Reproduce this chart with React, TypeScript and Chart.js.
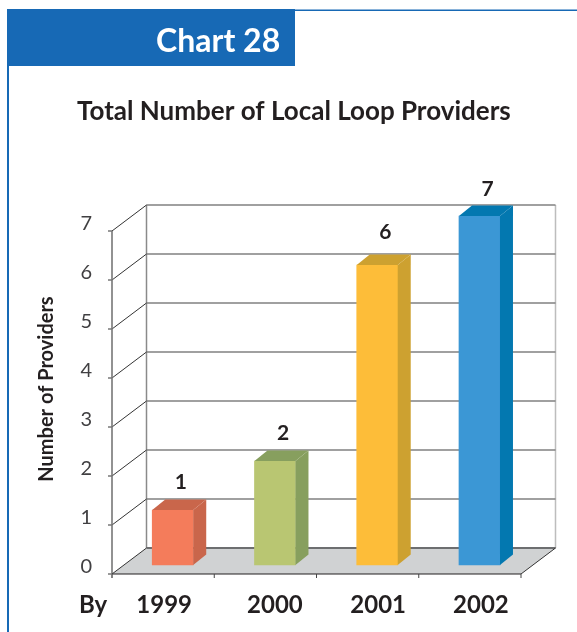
import React, { useEffect, useRef } from "react";
import { Chart, registerables } from "chart.js";

Chart.register(...registerables);

const categories = ["1999", "2000", "2001", "2002"];
const providers = [1, 2, 6, 7];
const frontColors = ["#f47c5b", "#b9c672", "#fdbd39", "#3b97d5"];
const sideColors = ["#c9664b", "#879f5e", "#cda130", "#0378b0"];
const yTicks = [0, 1, 2, 3, 4, 5, 6, 7];
const heading = "Chart 28";
const chartTitle = "Total Number of Local Loop Providers";
const yTitle = "Number of Providers";
const byLabel = "By";

const FONT = "Lato, 'Open Sans', sans-serif";
const WALL_DX = 34.5;
const WALL_DY = -26;
const BAR_DX = 9.6;
const BAR_DY = -15;
const SIDE_DX = 13;
const SIDE_DY = -10.5;
const LABEL_SHIFT = [1, 9.5, 10.5, 11];
const VALUE_GAP = [21, 21, 26, 20];

const poly = (ctx: CanvasRenderingContext2D, pts: number[][], fill: string) => {
  ctx.beginPath();
  pts.forEach(([x, y], i) => (i ? ctx.lineTo(x, y) : ctx.moveTo(x, y)));
  ctx.closePath();
  ctx.fillStyle = fill;
  ctx.fill();
};
const line = (
  ctx: CanvasRenderingContext2D,
  x1: number,
  y1: number,
  x2: number,
  y2: number,
  color: string,
  width: number
) => {
  ctx.beginPath();
  ctx.moveTo(x1, y1);
  ctx.lineTo(x2, y2);
  ctx.strokeStyle = color;
  ctx.lineWidth = width;
  ctx.stroke();
};

const framePlugin = {
  id: "frame3d",
  beforeDatasetsDraw(chart: any) {
    const { ctx, chartArea: a, scales } = chart;
    const y = scales.y;
    const x = scales.x;
    ctx.save();
    // page frame
    ctx.fillStyle = "#1769b5";
    ctx.fillRect(7, 9, 288, 57);
    ctx.fillRect(7, 66, 2, 566);
    ctx.fillRect(295, 9.5, 282, 1.5);
    ctx.textBaseline = "alphabetic";
    ctx.textAlign = "left";
    ctx.fillStyle = "#ffffff";
    ctx.font = `bold 32px ${FONT}`;
    ctx.fillText(heading, 156, 52);
    ctx.fillStyle = "#231f20";
    ctx.font = `bold 26px ${FONT}`;
    ctx.fillText(chartTitle, 77, 120);
    ctx.font = `bold 24px ${FONT}`;
    ctx.fillText(byLabel, 79, 613);
    ctx.save();
    ctx.translate(53, 389);
    ctx.rotate(-Math.PI / 2);
    ctx.textAlign = "center";
    ctx.font = `bold 20px ${FONT}`;
    ctx.fillText(yTitle, 0, 0);
    ctx.restore();
    // x labels
    ctx.textAlign = "center";
    ctx.font = `bold 24px ${FONT}`;
    categories.forEach((c, i) => {
      ctx.fillText(c, x.getPixelForValue(i) + LABEL_SHIFT[i], 613);
    });

    const y0 = y.getPixelForValue(0);
    // floor
    poly(
      ctx,
      [
        [a.left, y0],
        [a.right, y0],
        [a.right + WALL_DX, y0 + WALL_DY],
        [a.left + WALL_DX, y0 + WALL_DY],
      ],
      "#d0d2d3"
    );
    // right wall edge
    line(ctx, a.right + WALL_DX, y.getPixelForValue(7) + WALL_DY, a.right + WALL_DX, y0 + WALL_DY, "#bdbdbd", 1.5);
    // back wall + grid + side wall lines
    line(ctx, a.left + WALL_DX, y.getPixelForValue(7) + WALL_DY, a.left + WALL_DX, y0 + WALL_DY, "#8a8a8a", 1.5);
    yTicks.forEach((v) => {
      const py = y.getPixelForValue(v);
      line(ctx, a.left + WALL_DX, py + WALL_DY, a.right + WALL_DX, py + WALL_DY, v === 0 ? "#6d6e70" : "#808080", v === 0 ? 2 : 1.4);
      line(ctx, a.left, py, a.left + WALL_DX, py + WALL_DY, "#333333", 1);
      line(ctx, a.left - 4, py, a.left, py, "#555555", 1.2);
    });
    // left axis
    line(ctx, a.left, y.getPixelForValue(7), a.left, y0 + 4, "#777777", 1.6);
    // front floor edge
    line(ctx, a.left, y0, a.right, y0, "#231f20", 1.2);
    line(ctx, a.right, y0, a.right + WALL_DX, y0 + WALL_DY, "#333333", 1);
    for (let i = 0; i <= categories.length; i++) {
      const tx = a.left + ((a.right - a.left) * i) / categories.length;
      line(ctx, tx, y0, tx, y0 + 4, i === 0 ? "#777777" : "#444444", 1);
    }
    ctx.restore();
  },
  beforeDatasetDraw(chart: any) {
    chart.ctx.save();
    chart.ctx.translate(BAR_DX, BAR_DY);
  },
  afterDatasetDraw(chart: any) {
    const { ctx } = chart;
    chart.getDatasetMeta(0).data.forEach((bar: any, i: number) => {
      const l = bar.x - bar.width / 2;
      const r = bar.x + bar.width / 2;
      const t = bar.y;
      const b = bar.base;
      poly(ctx, [[r, t], [r + SIDE_DX, t + SIDE_DY], [r + SIDE_DX, b + SIDE_DY], [r, b]], sideColors[i]);
      poly(ctx, [[l, t], [l + SIDE_DX, t + SIDE_DY], [r + SIDE_DX, t + SIDE_DY], [r, t]], sideColors[i]);
      ctx.fillStyle = "#231f20";
      ctx.font = `bold 21px ${FONT}`;
      ctx.textAlign = "center";
      ctx.textBaseline = "alphabetic";
      ctx.fillText(String(providers[i]), bar.x + 8, t - VALUE_GAP[i]);
    });
    ctx.restore();
  },
};

export default function App() {
  const ref = useRef<HTMLCanvasElement>(null);
  useEffect(() => {
    const chart = new Chart(ref.current as HTMLCanvasElement, {
      type: "bar",
      data: {
        labels: categories,
        datasets: [
          {
            data: providers,
            backgroundColor: frontColors,
            borderWidth: 0,
            base: -0.12,
            barThickness: 41,
            clip: false,
          } as any,
        ],
      },
      options: {
        animation: false,
        responsive: false,
        layout: { padding: { top: 231, right: 56, left: 0, bottom: 0 } },
        plugins: { legend: { display: false }, tooltip: { enabled: false } },
        scales: {
          x: {
            grid: { display: false },
            border: { display: false },
            ticks: { display: false },
            afterFit(s: any) {
              s.height = 58;
            },
          },
          y: {
            min: 0,
            max: 7,
            grid: { display: false },
            border: { display: false },
            afterFit(s: any) {
              s.width = 112;
            },
            ticks: {
              stepSize: 1,
              labelOffset: -7,
              padding: 12,
              color: "#414042",
              font: { family: FONT, size: 20 },
            },
          },
        },
      },
      plugins: [framePlugin],
    } as any);
    return () => chart.destroy();
  }, []);
  return (
    <div style={{ position: "absolute", left: 0, top: 0, width: 577, height: 632, background: "#fff" }}>
      <canvas ref={ref} width={577} height={632} style={{ display: "block" }} />
    </div>
  );
}
